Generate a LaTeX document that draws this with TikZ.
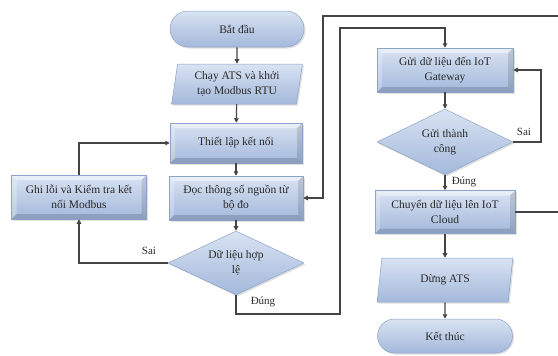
\documentclass[tikz,border=0pt]{standalone}
\usepackage{fontspec}
\setmainfont{Liberation Serif}
\newfontfamily\diagserif{Liberation Serif}
\usetikzlibrary{shapes.geometric,shapes.misc,arrows.meta,shadows,calc}
\definecolor{boxtop}{HTML}{D9E3F2}
\definecolor{boxbot}{HTML}{A3B8DB}
\definecolor{boxline}{HTML}{8DA3C9}
\definecolor{conn}{HTML}{444444}
\definecolor{txt}{HTML}{2A2A2A}
\begin{document}
\begin{tikzpicture}[x=1pt,y=-1pt,
  base/.style={top color=boxtop, bottom color=boxbot, draw=boxline, line width=0.5pt,
    text=txt, font=\diagserif\fontsize{11.5}{14.5}\selectfont, align=center, inner sep=0pt,
    drop shadow={shadow xshift=1.5pt,shadow yshift=-1.5pt,opacity=.25}},
  bevelbox/.style={base, rectangle, path picture={
    \fill[white,opacity=.45] (path picture bounding box.north west) -- (path picture bounding box.north east)
      -- ([shift={(-5pt,-5pt)}]path picture bounding box.north east) -- ([shift={(5pt,-5pt)}]path picture bounding box.north west) -- cycle;
    \fill[boxline!60!black,opacity=.3] (path picture bounding box.south west) -- (path picture bounding box.south east)
      -- ([shift={(-5pt,5pt)}]path picture bounding box.south east) -- ([shift={(5pt,5pt)}]path picture bounding box.south west) -- cycle;
    \fill[white,opacity=.25] (path picture bounding box.north west) -- ([shift={(5pt,-5pt)}]path picture bounding box.north west)
      -- ([shift={(5pt,5pt)}]path picture bounding box.south west) -- (path picture bounding box.south west) -- cycle;
    \fill[black,opacity=.12] (path picture bounding box.north east) -- ([shift={(-5pt,-5pt)}]path picture bounding box.north east)
      -- ([shift={(-5pt,5pt)}]path picture bounding box.south east) -- (path picture bounding box.south east) -- cycle;
  }},
  stadium/.style={base, rounded rectangle},
  iobox/.style={base, trapezium, trapezium left angle=80, trapezium right angle=100, trapezium stretches=true},
  decision/.style={base, diamond, aspect=2},
  arr/.style={draw=conn, line width=1.2pt, -{Triangle[length=4.5pt,width=4.5pt]}},
  lbl/.style={text=txt, font=\diagserif\fontsize{11}{13}\selectfont, inner sep=0pt}
]
\path[use as bounding box, fill=white] (0,0) rectangle (558,356);

% left column
\node[stadium, minimum width=134, minimum height=36] (start) at (237,29) {Bắt đầu};
\node[iobox, minimum width=132, minimum height=40] (init) at (237,84) {Chạy ATS và khởi\\tạo Modbus RTU};
\node[bevelbox, minimum width=132, minimum height=40] (setup) at (236,143) {Thiết lập kết nối};
\node[bevelbox, minimum width=134, minimum height=44] (read) at (236,198) {Đọc thông số nguồn từ\\bộ đo};
\node[decision, minimum width=136, minimum height=64] (valid) at (236,263) {Dữ liệu hợp\\lệ};
\node[bevelbox, minimum width=135, minimum height=44] (err) at (79,197) {Ghi lỗi và Kiểm tra kết\\nối Modbus};

% right column
\node[bevelbox, minimum width=136, minimum height=44] (gw) at (445,70) {Gửi dữ liệu đến IoT\\Gateway};
\node[decision, minimum width=136, minimum height=66] (ok) at (445,142) {Gửi thành\\công};
\node[bevelbox, minimum width=140, minimum height=43] (cloud) at (445,212) {Chuyển dữ liệu lên IoT\\Cloud};
\node[iobox, minimum width=136, minimum height=44] (stop) at (445,280) {Dừng ATS};
\node[stadium, minimum width=135, minimum height=34] (end) at (445,336) {Kết thúc};

% helper coordinates
\coordinate (d1) at (340,314);
\coordinate (d2) at (340,28);
\coordinate (r2) at (564,16);
\coordinate (r3) at (323,16);
\coordinate (s2) at (541,70);

% connectors
\draw[arr] (start) -- (init);
\draw[arr] (init) -- (setup);
\draw[arr] (setup) -- (read);
\draw[arr] (read) -- (valid);
\draw[arr] (valid.west) -| (err.south);
\draw[arr] (err.north) |- (setup.west);
\draw[arr] (valid.south) |- (d1) -- (d2) -| (gw.north);
\draw[arr] (gw) -- (ok);
\draw[arr] (ok.east) -| (s2) -- (gw.east);
\draw[arr] (ok) -- (cloud);
\draw[arr] (cloud.east) -| (r2) -- (r3) |- (read.east);
\draw[arr] (cloud) -- (stop);
\draw[arr] (stop) -- (end);

% labels
\node[lbl] (lsai1) at (149,251) {Sai};
\node[lbl] (ldung1) at (263,302) {Đúng};
\node[lbl] (lsai2) at (524,132) {Sai};
\node[lbl] (ldung2) at (464,182) {Đúng};
\end{tikzpicture}
\end{document}
